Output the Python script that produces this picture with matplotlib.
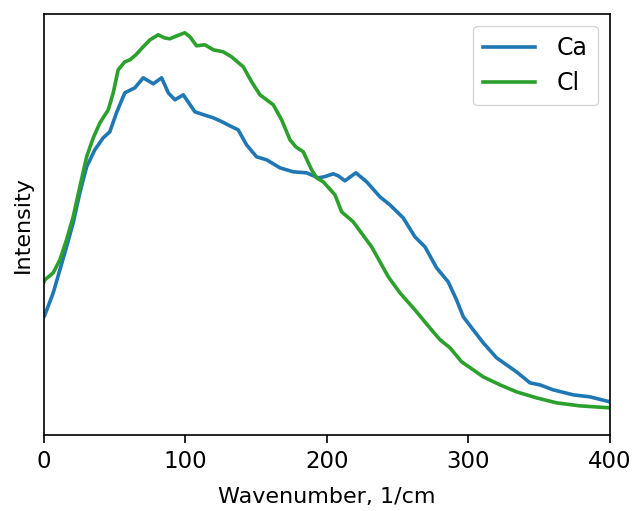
import numpy as np
import matplotlib
matplotlib.use("Agg")
import matplotlib.pyplot as plt

# Wavenumber (1/cm) and intensity (arbitrary units)
ca_x = [0, 0.7, 6.6, 11.3, 16, 20.7, 25.4, 30.2, 36, 41.9, 46.6, 51.3, 57.2, 64.3,
        70.2, 77.3, 83.2, 87.9, 92.6, 98.5, 106.7, 113, 119.7, 126, 131.4, 137.3,
        143.2, 150.3, 157.4, 166.8, 176.2, 185.6, 193.9, 198, 204.5, 208, 212.7,
        220.5, 228.1, 237.5, 244.5, 253.9, 262.2, 269.3, 277.5, 285.7, 291.6,
        296.4, 303.4, 310.5, 319.9, 334, 343.5, 350.5, 359.9, 374.1, 385.9, 400]
ca_y = [118, 120, 142, 165, 188, 212, 242, 268, 285, 297, 303, 322, 342, 347,
        357, 351, 357, 342, 335, 340, 323, 320, 317, 313, 309, 305,
        290, 278, 275, 267, 263, 262, 257, 258, 261, 259, 254,
        262, 253, 238, 230, 217, 198, 188, 167, 153, 135,
        118, 105, 92, 77, 63, 52, 50, 45, 40, 38, 33]

cl_x = [0, 0.7, 6.6, 11.3, 16, 20.7, 25.4, 30.2, 34.9, 39.6, 45.5, 49, 52.5, 57.2,
        60.8, 65, 70.2, 75, 80.8, 85, 89, 94, 99.6, 103.2, 107.9, 113.8, 119.7,
        126.7, 132.6, 140.9, 146.8, 152.7, 162.1, 168, 173.9, 178, 183.3, 189.2,
        192.7, 197.4, 205.7, 210.4, 218.6, 231.6, 243.4, 251.6, 262.2, 275.1,
        280, 287, 295.2, 303.4, 310.5, 322.3, 334, 348.1, 362.3, 378.8, 400]
cl_y = [153, 155, 162, 175, 195, 218, 248, 278, 297, 312, 325, 342, 365, 373,
        375, 380, 388, 395, 400, 397, 396, 399, 402, 398, 389, 390, 385,
        383, 378, 368, 353, 340, 330, 315, 295, 288, 283, 265,
        257, 253, 240, 223, 213, 188, 158, 142, 125, 103,
        95, 87, 73, 65, 58, 50, 43, 37, 32, 29, 27]

x_ticks = [0, 100, 200, 300, 400]

fig = plt.figure(figsize=(6.36, 5.11), dpi=100)
ax = fig.add_axes([0.069, 0.149, 0.890, 0.824])
ax.plot(ca_x, ca_y, color="#1f77b4", lw=2.6, label="Ca", solid_joinstyle="round")
ax.plot(cl_x, cl_y, color="#2ca02c", lw=2.6, label="Cl", solid_joinstyle="round")
ax.set_xlim(0, 400)
ax.set_ylim(0, 421)
ax.set_xticks(x_ticks)
ax.set_yticks([])
ax.tick_params(axis="x", labelsize=16.5, length=6, width=1.2, pad=5)
for s in ax.spines.values():
    s.set_linewidth(1.2)
ax.set_xlabel("Wavenumber, 1/cm", fontsize=16, labelpad=10)
ax.set_ylabel("Intensity", fontsize=16, labelpad=8)
leg = ax.legend(loc="upper right", fontsize=17, handlelength=2.2,
                borderpad=0.45, labelspacing=0.45, handletextpad=0.9)
fig.savefig("out.png", dpi=100)
